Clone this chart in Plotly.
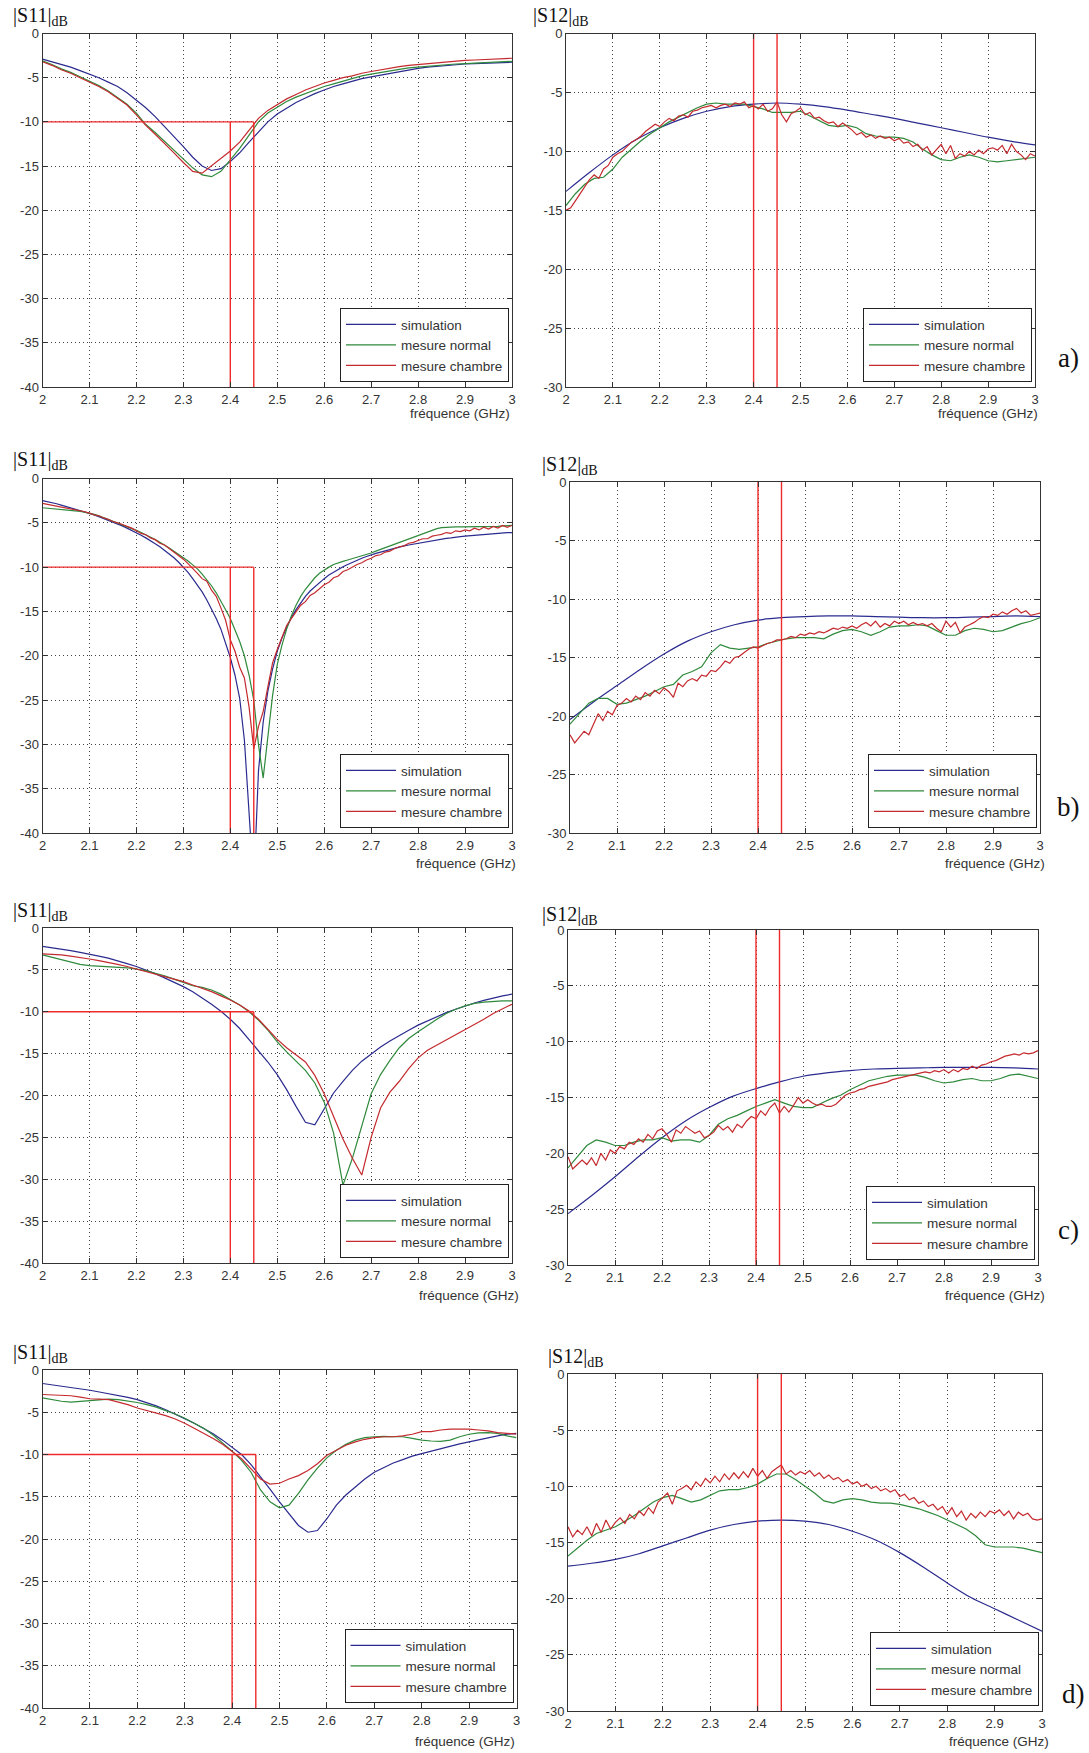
import numpy as np
import plotly.graph_objects as go

W, H = 1089, 1753

# ---------------- axis ticks ----------------
X_TICKS = [2.0, 2.1, 2.2, 2.3, 2.4, 2.5, 2.6, 2.7, 2.8, 2.9, 3.0]
X_TICK_TEXT = ["2", "2.1", "2.2", "2.3", "2.4", "2.5", "2.6", "2.7", "2.8", "2.9", "3"]
S11_TICKS = [0, -5, -10, -15, -20, -25, -30, -35, -40]
S11_TICK_TEXT = ["0", "-5", "-10", "-15", "-20", "-25", "-30", "-35", "-40"]
S12_TICKS = [0, -5, -10, -15, -20, -25, -30]
S12_TICK_TEXT = ["0", "-5", "-10", "-15", "-20", "-25", "-30"]
F_START, F_END = 2.0, 3.0

# band markers (GHz) and -10 dB level
MARK_LO, MARK_HI, MARK_LEVEL = 2.40, 2.45, -10

SERIES_NAMES = ["simulation", "mesure normal", "mesure chambre"]
PANEL_LETTERS = ["a)", "b)", "c)", "d)"]

# ---------------- data (dB) ----------------
# a) |S11|  (step 0.02 GHz)
S11A_SIM = [-2.9, -3.2, -3.5, -3.8, -4.2, -4.6, -5.0, -5.5, -6.0, -6.7,
            -7.5, -8.4, -9.4, -10.5, -11.7, -12.8, -14.0, -15.0, -15.5, -15.3,
            -14.5, -13.5, -12.3, -11.1, -10.0, -9.1, -8.4, -7.8, -7.3, -6.8,
            -6.4, -6.0, -5.7, -5.4, -5.1, -4.9, -4.7, -4.5, -4.3, -4.1,
            -3.95, -3.8, -3.7, -3.6, -3.5, -3.45, -3.4, -3.35, -3.3, -3.3,
            -3.25]
S11A_NORM = [-3.1, -3.5, -4.0, -4.4, -4.9, -5.4, -5.9, -6.5, -7.2, -8.0,
             -9.0, -10.3, -11.2, -12.2, -13.2, -14.2, -15.2, -16.0, -16.2, -15.6,
             -14.3, -13.0, -11.5, -10.0, -9.0, -8.3, -7.7, -7.2, -6.8, -6.4,
             -6.0, -5.7, -5.4, -5.1, -4.8, -4.6, -4.4, -4.2, -4.05, -3.9,
             -3.8, -3.7, -3.6, -3.5, -3.45, -3.4, -3.35, -3.3, -3.25, -3.2,
             -3.15]
S11A_CHAMB = [-3.2, -3.6, -4.1, -4.5, -5.0, -5.5, -6.0, -6.6, -7.3, -8.1,
              -9.2, -10.4, -11.4, -12.4, -13.5, -14.6, -15.6, -15.8, -15.0, -14.2,
              -13.3, -12.3, -10.9, -9.6, -8.7, -8.0, -7.4, -6.9, -6.4, -6.0,
              -5.6, -5.3, -5.0, -4.8, -4.5, -4.3, -4.1, -3.9, -3.75, -3.6,
              -3.5, -3.4, -3.3, -3.2, -3.1, -3.05, -3.0, -2.95, -2.9, -2.85,
              -2.8]
# a) |S12|
S12A_SIM = [-13.4, -11.8, -10.3, -9.0, -8.0, -7.2, -6.6, -6.2, -6.0, -5.9,
            -6.0, -6.2, -6.5, -6.85, -7.2, -7.6, -8.0, -8.4, -8.8, -9.15,
            -9.45]
S12A_NORM = [-14.6, -13.6, -12.8, -12.3, -12.2, -11.5, -10.5, -9.8, -9.1, -8.5,
             -8.0, -7.5, -7.1, -6.7, -6.3, -6.0, -5.9, -6.0, -6.0, -6.0,
             -6.2, -6.4, -6.7, -6.7, -6.7, -6.6, -7.0, -7.4, -7.8, -7.9,
             -7.8, -8.0, -8.5, -8.7, -8.8, -8.8, -8.9, -9.2, -9.8, -10.3,
             -10.7, -10.8, -10.5, -10.3, -10.5, -10.8, -10.9, -10.8, -10.7, -10.6,
             -10.5]
S12A_CHAMB = [-15.0, -14.8, -14.2, -13.6, -13.1, -12.4, -12.0, -12.3, -11.5, -11.2,
              -10.5, -10.2, -10.0, -9.6, -9.2, -9.0, -8.7, -8.3, -8.0, -7.7,
              -7.9, -7.5, -7.2, -7.4, -7.0, -6.9, -7.1, -6.6, -6.5, -6.3,
              -6.2, -6.1, -6.3, -6.1, -6.0, -6.2, -5.9, -6.0, -5.8, -6.3,
              -6.1, -6.4, -6.0, -6.6, -6.4, -5.8, -6.9, -7.5, -6.8, -6.6,
              -6.3, -6.9, -6.7, -7.2, -7.1, -7.4, -7.6, -7.5, -7.9, -7.6,
              -7.9, -8.2, -8.6, -8.4, -8.8, -8.6, -8.9, -8.7, -8.9, -8.8,
              -9.1, -8.9, -9.3, -9.2, -9.6, -9.4, -9.9, -9.6, -10.3, -9.8,
              -9.4, -10.2, -9.5, -10.6, -10.2, -10.4, -10.0, -10.3, -9.9, -10.2,
              -9.8, -9.7, -9.9, -9.5, -10.2, -9.4, -10.0, -10.3, -10.7, -10.2,
              -10.4]

# b) |S11|  (step 0.01 GHz)
S11B_SIM = [-2.5, -2.6, -2.7, -2.85, -3.0, -3.15, -3.3, -3.45, -3.6, -3.75,
            -3.9, -4.1, -4.3, -4.5, -4.7, -4.9, -5.1, -5.35, -5.6, -5.85,
            -6.1, -6.4, -6.7, -7.0, -7.35, -7.7, -8.1, -8.5, -8.95, -9.45,
            -10.0, -10.6, -11.3, -12.0, -12.8, -13.7, -14.7, -15.8, -17.0, -18.5,
            -20.2, -22.2, -24.8, -29.5, -37.5, -46.0, -33.0, -27.5, -24.0, -21.5,
            -19.5, -18.0, -16.8, -15.7, -14.8, -14.0, -13.3, -12.7, -12.2, -11.7,
            -11.3, -10.9, -10.55, -10.25, -9.95, -9.7, -9.45, -9.2, -9.0, -8.8,
            -8.6, -8.45, -8.3, -8.15, -8.0, -7.85, -7.7, -7.6, -7.5, -7.4,
            -7.3, -7.2, -7.1, -7.0, -6.9, -6.8, -6.75, -6.7, -6.6, -6.55,
            -6.5, -6.45, -6.4, -6.35, -6.3, -6.25, -6.2, -6.2, -6.15, -6.1,
            -6.1]
S11B_NORM = [-3.3, -3.35, -3.4, -3.4, -3.45, -3.5, -3.55, -3.6, -3.7, -3.8,
             -3.9, -4.05, -4.2, -4.4, -4.6, -4.8, -5.0, -5.2, -5.4, -5.6,
             -5.85, -6.1, -6.35, -6.6, -6.9, -7.2, -7.5, -7.85, -8.2, -8.55,
             -8.9, -9.3, -9.75, -10.2, -10.8, -11.4, -12.1, -12.9, -13.8, -14.8,
             -15.8, -17.0, -18.4, -20.0, -22.2, -25.0, -30.0, -33.8, -29.0, -24.5,
             -21.0, -18.8, -17.0, -15.5, -14.3, -13.3, -12.5, -11.8, -11.2, -10.7,
             -10.3, -10.0, -9.7, -9.5, -9.35, -9.2, -9.05, -8.9, -8.75, -8.6,
             -8.4, -8.2, -8.0, -7.8, -7.6, -7.4, -7.2, -7.0, -6.8, -6.6,
             -6.4, -6.2, -6.0, -5.8, -5.65, -5.55, -5.5, -5.45, -5.45, -5.45,
             -5.45, -5.45, -5.45, -5.45, -5.4, -5.4, -5.4, -5.4, -5.35, -5.35,
             -5.3]
S11B_CHAMB = [-2.8, -2.9, -3.0, -3.1, -3.2, -3.3, -3.4, -3.5, -3.6, -3.75,
              -3.9, -4.1, -4.2, -4.45, -4.6, -4.85, -5.0, -5.2, -5.45, -5.6,
              -5.9, -6.2, -6.35, -6.7, -6.9, -7.3, -7.5, -7.9, -8.2, -8.7,
              -9.1, -9.6, -10.1, -10.7, -11.3, -11.6, -12.6, -13.3, -14.6, -16.0,
              -18.2, -19.5, -21.3, -22.5, -25.8, -30.5, -28.0, -26.3, -23.5, -20.8,
              -19.3, -18.0, -16.6, -15.8, -15.0, -14.3, -13.9, -13.2, -12.9, -12.4,
              -12.0, -11.7, -11.2, -11.0, -10.5, -10.3, -10.0, -9.7, -9.5, -9.2,
              -9.0, -8.7, -8.6, -8.3, -8.2, -7.9, -7.7, -7.6, -7.3, -7.2,
              -7.0, -6.8, -6.8, -6.5, -6.4, -6.3, -6.1, -6.2, -5.9, -6.0,
              -5.8, -5.9, -5.6, -5.8, -5.5, -5.7, -5.4, -5.6, -5.3, -5.5,
              -5.3]
# b) |S12|
S12B_SIM = [-20.3, -18.8, -17.4, -16.0, -14.7, -13.6, -12.8, -12.2, -11.8, -11.6,
            -11.5, -11.45, -11.45, -11.5, -11.55, -11.6, -11.6, -11.55, -11.5, -11.45,
            -11.5]
S12B_NORM = [-20.7, -19.8, -18.9, -18.5, -18.5, -19.0, -18.9, -18.6, -18.3, -17.9,
             -17.5, -17.3, -16.5, -16.2, -15.8, -14.6, -13.9, -14.2, -14.3, -14.2,
             -14.1, -13.8, -13.6, -13.4, -13.3, -13.3, -13.3, -13.4, -13.0, -12.7,
             -12.6, -12.8, -13.1, -12.8, -12.4, -12.3, -12.3, -12.2, -12.3, -12.7,
             -13.1, -13.1, -12.7, -12.5, -12.6, -12.8, -12.7, -12.4, -12.1, -11.9,
             -11.6]
S12B_CHAMB = [-21.6, -22.3, -21.8, -21.3, -21.6, -20.7, -19.8, -20.4, -19.6, -19.9,
              -19.1, -18.9, -18.5, -18.8, -18.3, -18.6, -18.0, -18.3, -17.8, -18.1,
              -17.6, -17.9, -18.4, -17.2, -17.5, -17.0, -16.8, -17.0, -16.5, -16.6,
              -16.1, -16.2, -15.8, -15.3, -15.5, -15.0, -14.9, -14.6, -14.3, -14.1,
              -14.2, -14.0, -13.8, -13.7, -13.5, -13.5, -13.4, -13.2, -13.3, -13.0,
              -13.1, -12.9, -13.0, -12.8, -12.9, -12.7, -12.5, -12.6, -12.4, -12.5,
              -12.3, -12.5, -12.2, -12.0, -12.3, -11.9, -12.4, -12.1, -12.3, -11.9,
              -12.1, -11.9, -12.2, -12.0, -12.2, -12.1, -12.3, -12.1, -12.5, -12.8,
              -11.9, -12.4, -12.0, -12.9, -12.4, -12.2, -12.0, -11.7, -11.5, -11.6,
              -11.3, -11.4, -11.1, -11.3, -11.0, -10.8, -11.2, -11.0, -11.4, -11.3,
              -11.2]

# c) |S11|  (step 0.02 GHz)
S11C_SIM = [-2.2, -2.35, -2.5, -2.7, -2.9, -3.1, -3.35, -3.6, -3.9, -4.25,
            -4.6, -5.0, -5.45, -5.95, -6.45, -7.0, -7.6, -8.3, -9.1, -9.95,
            -10.9, -12.0, -13.3, -14.6, -16.0, -17.5, -19.3, -21.3, -23.2, -23.5,
            -21.6, -19.7, -18.3, -17.0, -15.9, -15.0, -14.2, -13.5, -12.8, -12.2,
            -11.6, -11.1, -10.6, -10.1, -9.7, -9.3, -8.95, -8.65, -8.35, -8.1,
            -7.9]
S11C_NORM = [-3.2, -3.5, -3.8, -4.1, -4.35, -4.5, -4.55, -4.6, -4.65, -4.75,
             -4.9, -5.1, -5.4, -5.7, -6.1, -6.5, -6.9, -7.1, -7.4, -7.9,
             -8.5, -9.2, -10.0, -11.0, -12.2, -13.6, -14.8, -15.9, -17.0, -18.5,
             -20.8, -24.5, -30.7, -27.5, -23.5, -19.8, -17.5, -15.8, -14.3, -13.2,
             -12.4, -11.6, -10.9, -10.2, -9.7, -9.3, -9.0, -8.85, -8.75, -8.7,
             -8.7]
S11C_CHAMB = [-3.1, -3.15, -3.2, -3.35, -3.5, -3.7, -3.9, -4.1, -4.35, -4.6,
              -4.9, -5.2, -5.5, -5.8, -6.1, -6.4, -6.8, -7.2, -7.6, -8.1,
              -8.6, -9.2, -9.9, -10.9, -12.1, -13.3, -14.3, -15.2, -16.0, -17.6,
              -19.8, -22.5, -25.2, -27.5, -29.5, -25.0, -21.5, -19.6, -18.3, -16.8,
              -15.5, -14.6, -14.0, -13.4, -12.8, -12.1, -11.5, -10.9, -10.2, -9.6,
              -9.1]
# c) |S12|
S12C_SIM = [-25.4, -23.8, -22.1, -20.3, -18.6, -17.1, -15.9, -14.9, -14.2, -13.6,
            -13.1, -12.8, -12.6, -12.45, -12.4, -12.35, -12.3, -12.3, -12.3, -12.35,
            -12.45]
S12C_NORM = [-21.3, -20.3, -19.3, -18.8, -19.0, -19.3, -19.3, -19.0, -18.8, -18.8,
             -18.6, -18.9, -18.8, -18.8, -19.0, -18.4, -17.4, -16.9, -16.6, -16.2,
             -15.8, -15.5, -15.2, -15.5, -15.8, -15.9, -15.9, -15.5, -15.1, -14.8,
             -14.3, -13.9, -13.5, -13.3, -13.1, -13.0, -13.0, -13.0, -13.2, -13.5,
             -13.7, -13.6, -13.4, -13.3, -13.5, -13.5, -13.3, -13.0, -12.9, -13.1,
             -13.3]
S12C_CHAMB = [-20.3, -21.4, -21.0, -20.6, -21.0, -20.4, -21.1, -20.0, -20.6, -19.7,
              -20.0, -19.4, -19.6, -19.0, -19.2, -18.7, -19.0, -18.3, -18.7, -18.0,
              -17.8, -18.3, -19.0, -17.9, -18.2, -17.6, -17.9, -18.2, -18.0, -18.6,
              -18.4, -18.1, -17.5, -17.9, -17.6, -18.1, -17.4, -17.7, -17.1, -16.7,
              -16.9, -16.2, -16.6, -15.9, -15.5, -16.4, -15.8, -16.3, -15.7, -15.0,
              -15.5, -15.2, -15.5, -15.7, -15.6, -15.8, -15.8, -15.6, -15.2, -14.8,
              -14.6, -14.5, -14.3, -14.2, -14.0, -13.9, -13.8, -13.7, -13.6, -13.4,
              -13.3, -13.2, -13.1, -13.0, -12.9, -12.8, -12.7, -12.8, -12.6, -12.7,
              -12.5, -12.8, -12.5, -12.7, -12.4, -12.5, -12.2, -12.4, -12.1, -12.0,
              -11.8, -11.7, -11.5, -11.3, -11.2, -11.1, -11.2, -11.0, -11.1, -11.0,
              -10.8]

# d) |S11|  (step 0.02 GHz)
S11D_SIM = [-1.6, -1.75, -1.9, -2.05, -2.25, -2.4, -2.6, -2.8, -3.0, -3.25,
            -3.5, -3.85, -4.25, -4.7, -5.2, -5.75, -6.3, -6.9, -7.55, -8.3,
            -9.1, -10.0, -11.2, -12.6, -14.1, -15.6, -17.0, -18.4, -19.2, -19.0,
            -17.6, -16.0, -14.8, -13.8, -12.9, -12.1, -11.5, -11.0, -10.6, -10.2,
            -9.9, -9.6, -9.3, -9.0, -8.75, -8.5, -8.25, -8.0, -7.8, -7.6,
            -7.5]
S11D_NORM = [-3.3, -3.5, -3.7, -3.8, -3.7, -3.6, -3.5, -3.45, -3.5, -3.65,
             -3.85, -4.1, -4.4, -4.8, -5.2, -5.7, -6.3, -6.9, -7.7, -8.6,
             -9.6, -10.7, -12.1, -14.2, -15.6, -16.3, -16.0, -14.6, -13.0, -11.6,
             -10.4, -9.5, -8.8, -8.3, -8.0, -7.9, -7.85, -7.9, -7.9, -8.1,
             -8.3, -8.4, -8.45, -8.3, -7.9, -7.6, -7.45, -7.4, -7.5, -7.8,
             -8.0]
S11D_CHAMB = [-2.9, -2.95, -3.0, -3.05, -3.2, -3.4, -3.45, -3.5, -3.8, -4.1,
              -4.5, -4.8, -5.1, -5.4, -5.8, -6.3, -6.9, -7.5, -8.1, -8.8,
              -9.7, -10.5, -11.7, -12.9, -13.5, -13.4, -12.9, -12.5, -11.9, -11.1,
              -10.1, -9.5, -8.9, -8.5, -8.2, -8.0, -7.9, -7.9, -7.8, -7.6,
              -7.3, -7.3, -7.1, -7.0, -7.0, -7.0, -7.1, -7.2, -7.4, -7.5,
              -7.6]
# d) |S12|
S12D_SIM = [-17.1, -16.85, -16.5, -16.0, -15.3, -14.6, -13.9, -13.4, -13.1, -13.0,
            -13.1, -13.4, -14.0, -14.8, -15.9, -17.2, -18.6, -19.9, -20.9, -21.9,
            -22.9]
S12D_NORM = [-16.2, -15.5, -14.8, -14.2, -13.9, -13.6, -13.1, -12.6, -12.0, -11.4,
             -11.0, -10.8, -11.1, -11.4, -11.2, -10.8, -10.4, -10.3, -10.3, -10.1,
             -9.8, -9.3, -8.9, -8.9, -9.4, -10.0, -10.6, -11.3, -11.5, -11.2,
             -11.1, -11.2, -11.4, -11.5, -11.5, -11.6, -11.8, -12.0, -12.3, -12.6,
             -13.0, -13.4, -13.8, -14.4, -15.2, -15.4, -15.4, -15.4, -15.5, -15.7,
             -15.9]
S12D_CHAMB = [-13.6, -14.5, -13.9, -14.3, -13.6, -14.4, -13.3, -14.1, -13.0, -13.8,
              -13.2, -12.8, -13.3, -12.5, -12.9, -12.2, -12.6, -11.9, -12.4, -11.4,
              -11.0, -10.6, -11.6, -10.4, -10.2, -9.9, -10.3, -9.6, -10.0, -9.3,
              -9.7, -9.1, -9.6, -8.9, -9.4, -8.8, -9.3, -8.7, -9.2, -8.4,
              -9.1, -8.6, -9.3, -8.7, -8.4, -8.1, -8.9, -8.6, -9.0, -8.7,
              -8.9, -8.6, -9.1, -8.8, -9.3, -9.0, -9.4, -9.2, -9.6, -9.4,
              -9.8, -9.6, -10.0, -9.8, -10.2, -10.0, -10.4, -10.2, -10.5, -10.3,
              -10.9, -10.7, -11.2, -11.0, -11.5, -11.3, -11.8, -11.6, -12.1, -11.8,
              -12.5, -11.9, -12.7, -12.2, -13.0, -12.4, -12.8, -12.3, -12.7, -12.2,
              -12.4, -12.1, -12.6, -12.2, -12.9, -12.3, -12.6, -12.4, -12.9, -13.0,
              -12.9]

# ---------------- styling ----------------
C_SIM = "#2b2b8f"
C_NORM = "#2f8a3c"
C_CHAMB = "#c42a2e"
C_MARK = "#ee2a2a"
SANS = "Liberation Sans, Arial, sans-serif"
SERIF = "Liberation Serif, Times New Roman, serif"

# panel boxes in pixels: (left, top, right, bottom)
PANELS = [
    dict(box=(42.5, 33.5, 512, 387), kind="S11", data=(S11A_SIM, S11A_NORM, S11A_CHAMB),
         lab=(11, 17), freq=(512, 414)),
    dict(box=(566, 33.5, 1035, 387), kind="S12", data=(S12A_SIM, S12A_NORM, S12A_CHAMB),
         lab=(531, 17), freq=(1040, 414), letter=(0, 1068, 358)),
    dict(box=(42.5, 478.5, 512, 833), kind="S11", data=(S11B_SIM, S11B_NORM, S11B_CHAMB),
         lab=(11, 461), freq=(518, 863)),
    dict(box=(570, 482, 1040, 833), kind="S12", data=(S12B_SIM, S12B_NORM, S12B_CHAMB),
         lab=(540, 465), freq=(1047, 863), letter=(1, 1068, 807)),
    dict(box=(42.5, 928, 512, 1263), kind="S11", data=(S11C_SIM, S11C_NORM, S11C_CHAMB),
         lab=(11, 911), freq=(521, 1295)),
    dict(box=(568, 930, 1038, 1265), kind="S12", data=(S12C_SIM, S12C_NORM, S12C_CHAMB),
         lab=(540, 915), freq=(1047, 1295), letter=(2, 1068, 1230)),
    dict(box=(42.5, 1370, 516.5, 1708), kind="S11", data=(S11D_SIM, S11D_NORM, S11D_CHAMB),
         lab=(11, 1353), freq=(517, 1741)),
    dict(box=(568, 1374, 1042, 1711), kind="S12", data=(S12D_SIM, S12D_NORM, S12D_CHAMB),
         lab=(546, 1357), freq=(1051, 1741), letter=(3, 1073, 1694)),
]


def fx(p):
    return p / W


def fy(p):
    return 1 - p / H


fig = go.Figure()
annotations = []
layout = {}

for i, pan in enumerate(PANELS):
    n = i + 1
    sfx = "" if n == 1 else str(n)
    xref, yref = "x" + sfx, "y" + sfx
    leg = "legend" + sfx
    l, t, r, b = pan["box"]
    if pan["kind"] == "S11":
        yt, ytt, ymin, label = S11_TICKS, S11_TICK_TEXT, S11_TICKS[-1], "|S11|<sub>dB</sub>"
    else:
        yt, ytt, ymin, label = S12_TICKS, S12_TICK_TEXT, S12_TICKS[-1], "|S12|<sub>dB</sub>"

    colors = [C_SIM, C_NORM, C_CHAMB]
    for k, vals in enumerate(pan["data"]):
        assert len(vals) in (21, 51, 101), (n, k, len(vals))
        f = np.linspace(F_START, F_END, len(vals))
        fig.add_trace(go.Scatter(
            x=f, y=vals, mode="lines", name=SERIES_NAMES[k],
            line=dict(color=colors[k], width=1.2,
                      shape="spline" if len(vals) == 21 else "linear", smoothing=0.8),
            xaxis=xref, yaxis=yref, legend=leg, showlegend=True, hoverinfo="skip"))

    # band marker lines
    if pan["kind"] == "S11":
        segs = [([F_START, MARK_HI], [MARK_LEVEL, MARK_LEVEL]),
                ([MARK_LO, MARK_LO], [ymin, MARK_LEVEL]),
                ([MARK_HI, MARK_HI], [ymin, MARK_LEVEL])]
    else:
        segs = [([MARK_LO, MARK_LO], [ymin, 0]),
                ([MARK_HI, MARK_HI], [ymin, 0])]
    for sx, sy in segs:
        fig.add_trace(go.Scatter(x=sx, y=sy, mode="lines",
                                 line=dict(color=C_MARK, width=1.4),
                                 xaxis=xref, yaxis=yref, showlegend=False, hoverinfo="skip"))

    axis_common = dict(showline=True, linecolor="#333333", linewidth=1, mirror="ticks",
                       ticks="inside", ticklen=5, tickcolor="#333333",
                       showgrid=True, gridcolor="#444444", griddash="1px,3px", gridwidth=1,
                       zeroline=False, automargin=False,
                       tickfont=dict(family=SANS, size=13, color="#333333"),
                       fixedrange=True)
    layout["xaxis" + sfx] = dict(axis_common, domain=[fx(l), fx(r)], anchor=yref,
                                 range=[F_START, F_END], tickmode="array",
                                 tickvals=X_TICKS, ticktext=X_TICK_TEXT)
    layout["yaxis" + sfx] = dict(axis_common, domain=[fy(b), fy(t)], anchor=xref,
                                 range=[ymin, 0], tickmode="array",
                                 tickvals=yt, ticktext=ytt)
    layout[leg] = dict(x=fx(r - 3), y=fy(b - 5), xanchor="right", yanchor="bottom",
                       bgcolor="white", bordercolor="#222222", borderwidth=1,
                       font=dict(family=SANS, size=13.5, color="#333333"),
                       itemwidth=50, traceorder="normal", tracegroupgap=0)

    lx, ly = pan["lab"]
    annotations.append(dict(text=label, x=fx(lx), y=fy(ly), xref="paper", yref="paper",
                            xanchor="left", yanchor="middle", showarrow=False,
                            font=dict(family=SERIF, size=20, color="#111111")))
    rx, ry = pan["freq"]
    annotations.append(dict(text="fréquence (GHz)", x=fx(rx), y=fy(ry), xref="paper",
                            yref="paper", xanchor="right", yanchor="middle", showarrow=False,
                            font=dict(family=SANS, size=13.5, color="#333333")))
    if "letter" in pan:
        li, lxp, lyp = pan["letter"]
        annotations.append(dict(text=PANEL_LETTERS[li], x=fx(lxp), y=fy(lyp), xref="paper",
                                yref="paper", xanchor="center", yanchor="middle",
                                showarrow=False,
                                font=dict(family=SERIF, size=27, color="#111111")))

fig.update_layout(**layout)
fig.update_layout(width=W, height=H, autosize=False,
                  margin=dict(l=0, r=0, t=0, b=0, pad=0),
                  paper_bgcolor="white", plot_bgcolor="white",
                  annotations=annotations, hovermode=False)

fig.write_html("out.html", config={"displayModeBar": False},
               post_script="document.body.style.margin='0';document.body.style.overflow='hidden';")
